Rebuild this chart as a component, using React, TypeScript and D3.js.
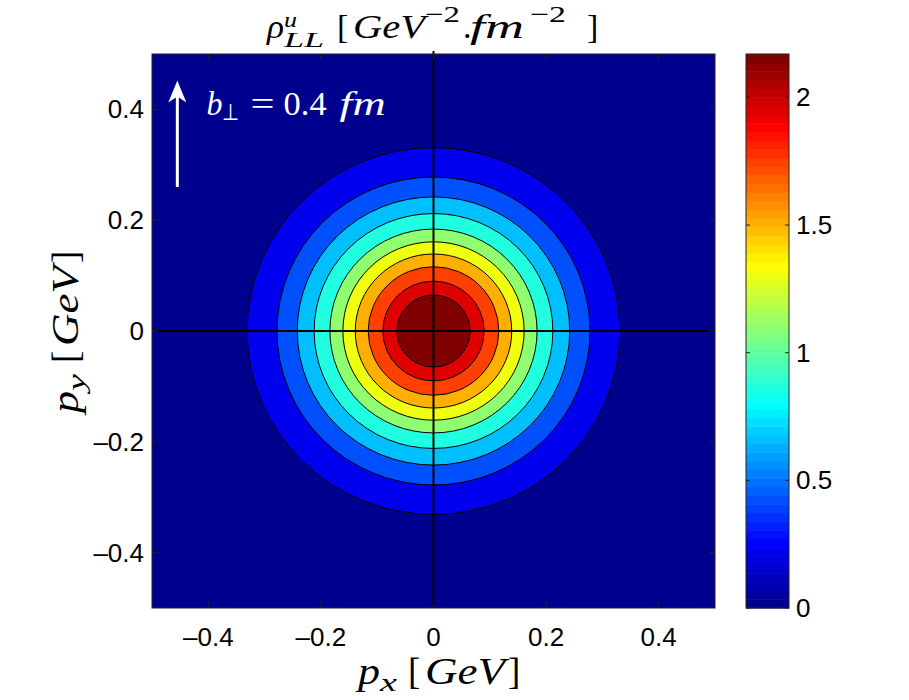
import * as d3 from 'd3'
import React from 'react'

// contour levels of rho and the radius (GeV) where each ring starts
const levels = [0, 0.2, 0.4, 0.6, 0.8, 1.0, 1.2, 1.4, 1.6, 1.8, 2.0]
const levelRadii = [0.5, 0.331, 0.278, 0.242, 0.212, 0.184, 0.161, 0.139, 0.116, 0.090, 0.065]
const axisTicks = [-0.4, -0.2, 0, 0.2, 0.4]
const colorbarTicks = [0, 0.5, 1, 1.5, 2]
const colorbarMax = 2.17
// arrow marking b_perp direction (data coords)
const arrowX = -0.455
const arrowFrom = 0.26
const arrowTo = 0.452

// MATLAB jet, 64 entries
const jetU = (k: number) => (k < 1 || k > 47 ? 0 : k <= 16 ? k / 16 : k <= 31 ? 1 : (48 - k) / 16)
const jet = (i: number) => d3.rgb(jetU(i - 24) * 255, jetU(i - 8) * 255, jetU(i + 8) * 255).formatHex()
const levelColor = (v: number) => jet(Math.min(64, Math.floor((v / levels[levels.length - 1]) * 64) + 1))

const fmt = (v: number) => d3.format('')(v).replace('−', '–')

const W = 909
const H = 700
const plot = { left: 152, right: 715, top: 54, bottom: 608 }
const cbar = { left: 746, right: 789 }

const serif = 'Liberation Serif, Times New Roman, serif'
const sans = 'Liberation Sans, Arial, Helvetica, sans-serif'

// latex-ish pieces: text, x offset, baseline offset, size, italic, stretched width
type Seg = { t: string, x: number, dy?: number, size: number, it?: boolean, w?: number }

const MathText = ({ segs, x0, y0, fill = '#000' }: { segs: Seg[], x0: number, y0: number, fill?: string }) => (
  <g fill={fill} fontFamily={serif}>
    {segs.map((s, i) => (
      <text key={i} x={x0 + s.x} y={y0 + (s.dy || 0)} fontSize={s.size}
        fontStyle={s.it ? 'italic' : 'normal'}
        textLength={s.w} lengthAdjust={s.w ? 'spacingAndGlyphs' : undefined}>{s.t}</text>
    ))}
  </g>
)

const titleSegs: Seg[] = [
  { t: 'ρ', x: 0, size: 34, it: true, w: 17 },
  { t: 'u', x: 17, dy: -11, size: 22, it: true, w: 13 },
  { t: 'LL', x: 17, dy: 9, size: 22, it: true, w: 40 },
  { t: '[', x: 70, size: 34 },
  { t: 'GeV', x: 86, size: 34, it: true, w: 72 },
  { t: '−2', x: 158, dy: -16, size: 23, w: 35 },
  { t: '.', x: 196, size: 34 },
  { t: 'fm', x: 203, size: 34, it: true, w: 54 },
  { t: '−2', x: 263, dy: -16, size: 23, w: 36 },
  { t: ']', x: 320, size: 34 },
]

const bSegs: Seg[] = [
  { t: 'b', x: 0, size: 33, it: true, w: 16 },
  { t: '⊥', x: 15, dy: 5, size: 23, w: 17 },
  { t: '=', x: 44, size: 33, w: 24 },
  { t: '0.4', x: 77, size: 33, w: 43 },
  { t: 'fm', x: 133, size: 33, it: true, w: 46 },
]

const axisSegs = (sub: string): Seg[] => [
  { t: 'p', x: 0, size: 37, it: true, w: 22 },
  { t: sub, x: 22, dy: 7, size: 25, it: true, w: 17 },
  { t: '[', x: 50, size: 37 },
  { t: 'GeV', x: 67, size: 37, it: true, w: 80 },
  { t: ']', x: 150, size: 37 },
]

const App = () => {
  const x = d3.scaleLinear().domain([-0.5, 0.5]).range([plot.left, plot.right])
  const y = d3.scaleLinear().domain([-0.5, 0.5]).range([plot.bottom, plot.top])
  const cy = d3.scaleLinear().domain([0, colorbarMax]).range([plot.bottom, plot.top])

  const tickLen = 6
  const bands = d3.range(64)
  const ax = x(arrowX)

  return (
    <svg width={W} height={H} style={{ position: 'absolute', left: 0, top: 0, background: '#fff' }}>
      <defs>
        <clipPath id='plotclip'>
          <rect x={plot.left} y={plot.top} width={plot.right - plot.left} height={plot.bottom - plot.top} />
        </clipPath>
      </defs>

      {/* filled contours */}
      <g clipPath='url(#plotclip)'>
        <rect x={plot.left} y={plot.top} width={plot.right - plot.left} height={plot.bottom - plot.top}
          fill={levelColor(levels[0])} />
        {levels.slice(1).map((lv, i) => {
          const r = levelRadii[i + 1]
          return (
            <ellipse key={lv} cx={x(0)} cy={y(0)} rx={x(r) - x(0)} ry={y(0) - y(r)}
              fill={levelColor(lv)} stroke='#000' strokeWidth={1} />
          )
        })}
      </g>

      {/* cross hair */}
      <line x1={x(0)} x2={x(0)} y1={plot.top - 3} y2={plot.bottom} stroke='#000' strokeWidth={2} />
      <line x1={plot.left} x2={plot.right} y1={y(0)} y2={y(0)} stroke='#000' strokeWidth={2} />

      {/* axes box and ticks */}
      <rect x={plot.left} y={plot.top} width={plot.right - plot.left} height={plot.bottom - plot.top}
        fill='none' stroke='#222' strokeWidth={1} />
      {axisTicks.map(t => (
        <g key={'t' + t} stroke='#222' strokeWidth={1}>
          <line x1={x(t)} x2={x(t)} y1={plot.bottom} y2={plot.bottom - tickLen} />
          <line x1={x(t)} x2={x(t)} y1={plot.top} y2={plot.top + tickLen} />
          <line x1={plot.left} x2={plot.left + tickLen} y1={y(t)} y2={y(t)} />
          <line x1={plot.right} x2={plot.right - tickLen} y1={y(t)} y2={y(t)} />
        </g>
      ))}
      {axisTicks.map(t => (
        <text key={'xl' + t} x={x(t)} y={plot.bottom + 38} textAnchor='middle'
          fontFamily={sans} fontSize={26}>{fmt(t)}</text>
      ))}
      {axisTicks.map(t => (
        <text key={'yl' + t} x={plot.left - 8} y={y(t) + 9} textAnchor='end'
          fontFamily={sans} fontSize={26}>{fmt(t)}</text>
      ))}

      {/* arrow + b_perp annotation */}
      <line x1={ax} x2={ax} y1={y(arrowFrom)} y2={y(arrowTo) + 14} stroke='#fff' strokeWidth={3} />
      <path d={`M${ax},${y(arrowTo)} l-9,22 l9,-6 l9,6 Z`} fill='#fff' />
      <MathText segs={bSegs} x0={x(-0.403)} y0={y(0.39)} fill='#fff' />

      {/* title */}
      <MathText segs={titleSegs} x0={267} y0={38} />

      {/* axis labels */}
      <MathText segs={axisSegs('x')} x0={358} y0={684} />
      <g transform={`translate(78,${y(0) + 82}) rotate(-90)`}>
        <MathText segs={axisSegs('y')} x0={0} y0={0} />
      </g>

      {/* colorbar */}
      {bands.map(k => (
        <rect key={'cb' + k} x={cbar.left} width={cbar.right - cbar.left}
          y={cy(((k + 1) * colorbarMax) / 64)} height={cy((k * colorbarMax) / 64) - cy(((k + 1) * colorbarMax) / 64) + 0.5}
          fill={jet(k + 1)} />
      ))}
      <rect x={cbar.left} y={plot.top} width={cbar.right - cbar.left} height={plot.bottom - plot.top}
        fill='none' stroke='#222' strokeWidth={1} />
      {colorbarTicks.map(t => (
        <g key={'ct' + t} stroke='#222' strokeWidth={1}>
          <line x1={cbar.left} x2={cbar.left + 4} y1={cy(t)} y2={cy(t)} />
          <line x1={cbar.right} x2={cbar.right - 4} y1={cy(t)} y2={cy(t)} />
        </g>
      ))}
      {colorbarTicks.map(t => (
        <text key={'cl' + t} x={cbar.right + 7} y={cy(t) + 9} fontFamily={sans} fontSize={26}>{fmt(t)}</text>
      ))}
    </svg>
  )
}

export default App
